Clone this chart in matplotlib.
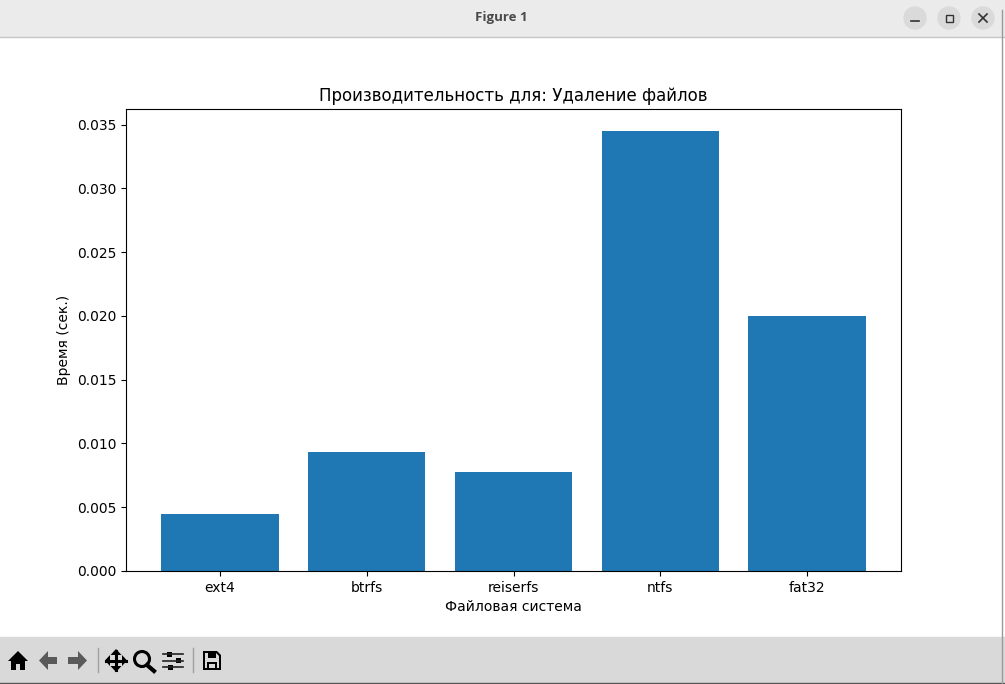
import matplotlib
matplotlib.use('Agg')
import matplotlib.pyplot as plt
from matplotlib.patches import Rectangle, Circle, Polygon
from matplotlib.lines import Line2D

fs_names = ['ext4', 'btrfs', 'reiserfs', 'ntfs', 'fat32']
times = [0.0045, 0.00935, 0.0078, 0.0345, 0.0200]

W, H = 1005, 684
fig = plt.figure(figsize=(W / 100, H / 100), dpi=100)
ax = fig.add_axes([126 / W, 1 - 571 / H, 775 / W, 462 / H])

ax.bar(fs_names, times)
ax.set_title('Производительность для: Удаление файлов', pad=5.5)
ax.set_xlabel('Файловая система')
ax.set_ylabel('Время (сек.)')


# helpers for the window decoration, in screenshot pixels (y down)
def line(xs, ys, color='black', lw=1.5):
    fig.add_artist(Line2D(xs, [H - y for y in ys], transform=None, color=color, lw=lw))


def poly(pts, color='black'):
    fig.add_artist(Polygon([(x, H - y) for x, y in pts], transform=None, color=color, lw=0))


# title bar and toolbar
fig.add_artist(Rectangle((0, 1 - 36 / H), 1, 36 / H, transform=fig.transFigure, color='#ebebeb'))
line([0, W], [36.5, 36.5], '#c4c4c4', 1)
fig.add_artist(Rectangle((0, 0), 1, 47 / H, transform=fig.transFigure, color='#d9d9d9'))
line([0, W], [682.5, 682.5], '#555555', 1)
line([1002, 1002], [10, H], '#9a9a9a', 1)
fig.text(501 / W, 1 - 18 / H, 'Figure 1', ha='center', va='center', fontsize=9.5,
         fontweight='bold', color='#4a4a4a', family='Open Sans')

for x in [915, 949, 983]:
    fig.add_artist(Circle((x, H - 18), 11, transform=None, color='#dadada'))
line([911, 919], [20.5, 20.5], '#333333', 1.2)
fig.add_artist(Rectangle((945.5, H - 21.5), 7, 7, transform=None, fill=False, ec='#333333', lw=1))
line([979, 987], [14, 22], '#333333', 1.2)
line([979, 987], [22, 14], '#333333', 1.2)

# home
poly([(8, 661), (18, 651), (28, 661), (25, 661), (25, 670), (20, 670), (20, 664), (16, 664),
      (16, 670), (11, 670), (11, 661)])
# back / forward
poly([(39, 660.5), (48, 651), (48, 657), (57, 657), (57, 664), (48, 664), (48, 670)], '#5a5a5a')
poly([(87, 660.5), (78, 651), (78, 657), (68, 657), (68, 664), (78, 664), (78, 670)], '#5a5a5a')
line([97.5, 97.5], [648, 672], '#a0a0a0', 1)
# pan
line([106, 126], [660.5, 660.5], lw=2.2)
line([116, 116], [651, 670], lw=2.2)
poly([(105, 660.5), (110, 655), (110, 666)])
poly([(127, 660.5), (122, 655), (122, 666)])
poly([(116, 649), (110.5, 655), (121.5, 655)])
poly([(116, 672), (110.5, 666), (121.5, 666)])
# zoom
fig.add_artist(Circle((142, H - 659), 7.5, transform=None, fill=False, ec='black', lw=2.2))
line([147, 154], [665, 671], lw=3)
# sliders
for y, kx in [(654, 169), (660.5, 178), (667, 170)]:
    line([163, 183], [y, y], '#222222', 1.2)
    poly([(kx - 2.5, y - 2.5), (kx + 2.5, y - 2.5), (kx + 2.5, y + 2.5), (kx - 2.5, y + 2.5)])
line([192.5, 192.5], [648, 672], '#a0a0a0', 1)
# save
poly([(203, 651), (217, 651), (221, 655), (221, 670), (203, 670)])
poly([(205, 653), (216, 653), (219, 656), (219, 668), (205, 668)], '#d9d9d9')
poly([(208, 652), (216, 652), (216, 658), (208, 658)])
poly([(207, 662), (217, 662), (217, 669), (207, 669)])
poly([(209, 664), (215, 664), (215, 668), (209, 668)], '#d9d9d9')

fig.savefig('out.png', dpi=100)
